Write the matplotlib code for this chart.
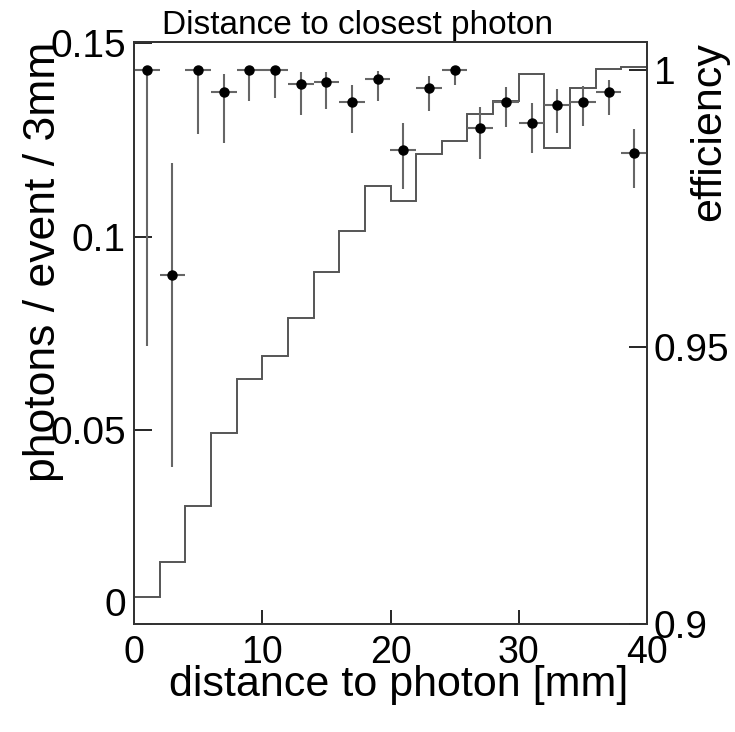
import numpy as np
import matplotlib
matplotlib.use("Agg")
import matplotlib.pyplot as plt

plt.rcParams['font.family'] = ['Liberation Sans', 'DejaVu Sans']

# histogram: photons / event / 3mm, 2 mm bins from 0 to 40
bin_edges = np.arange(0, 42, 2)
photons = [0.0071, 0.0159, 0.0306, 0.0492, 0.0632, 0.0692, 0.0789, 0.0909,
           0.1015, 0.1130, 0.1092, 0.1215, 0.1247, 0.1316, 0.1351, 0.1420,
           0.1229, 0.1383, 0.1433, 0.1439]

# efficiency points with lower / upper ends of the error bars
centers = np.arange(1, 40, 2)
eff = [1.0000, 0.9630, 1.0000, 0.9961, 1.0000, 1.0000, 0.9976, 0.9979,
       0.9942, 0.9984, 0.9856, 0.9968, 1.0000, 0.9896, 0.9943, 0.9904,
       0.9937, 0.9943, 0.9960, 0.9850]
eff_low = [0.9502, 0.9283, 0.9884, 0.9869, 0.9944, 0.9949, 0.9919, 0.9930,
           0.9886, 0.9944, 0.9785, 0.9926, 0.9973, 0.9839, 0.9898, 0.9851,
           0.9886, 0.9899, 0.9919, 0.9788]
eff_high = [1.0000, 0.9832, 1.0000, 0.9994, 1.0000, 1.0000, 0.9997, 0.9997,
            0.9974, 0.9998, 0.9905, 0.9989, 1.0000, 0.9934, 0.9970, 0.9940,
            0.9967, 0.9972, 0.9982, 0.9894]

eff = np.array(eff)
yerr = [eff - np.array(eff_low), np.array(eff_high) - eff]

fig = plt.figure(figsize=(7.35, 7.32), dpi=100)
ax = fig.add_axes([134/735, 1 - 624/732, 513/735, 582/732])

ax.stairs(photons, bin_edges, baseline=None, color='#555555', lw=1.4)
ax.set_xlim(0, 40)
ax.set_ylim(0, 0.1503)
ax.set_xticks([0, 10, 20, 30, 40])
ax.set_xticklabels(['0', '10', '20', '30', '40'])
ax.set_yticks([0, 0.05, 0.1, 0.15])
ax.set_yticklabels(['0', '0.05', '0.1', '0.15'])
ax.tick_params(axis='x', direction='in', length=10, width=1.2, labelsize=27,
               pad=8, top=False)
ax.tick_params(axis='y', direction='in', length=13, width=1.2, labelsize=28,
               pad=6, right=False)
# ROOT puts the "0" of the y axis just above the corner
ax.get_yticklabels()[0].set_verticalalignment('bottom')
for s in ax.spines.values():
    s.set_color('#333333')
    s.set_linewidth(1.3)

ax.set_xlabel('distance to photon [mm]', fontsize=31)
ax.xaxis.set_label_coords(0.515, -0.071)
ax.set_ylabel('photons / event / 3mm', fontsize=32, loc='top')
ax.yaxis.set_label_coords(-0.136, 1.0)

ax2 = ax.twinx()
ax2.errorbar(centers, eff, yerr=yerr, xerr=1, fmt='o', color='black',
             ecolor='#666666', elinewidth=1.5, ms=6.5, capsize=0)
ax2.set_ylim(0.9, 1.0051)
ax2.set_yticks([0.9, 0.95, 1.0])
ax2.set_yticklabels(['0.9', '0.95', '1'])
ax2.tick_params(axis='y', direction='in', length=13, width=1.2, labelsize=28,
                pad=5)
for s in ax2.spines.values():
    s.set_color('#333333')
    s.set_linewidth(1.3)
ax2.set_ylabel('efficiency', fontsize=31, loc='top')
ax2.yaxis.set_label_coords(1.083, 1.0)

fig.text(162/735, 1 - 34/732, 'Distance to closest photon', fontsize=24,
         ha='left', va='baseline')

fig.savefig('out.png', dpi=100)
